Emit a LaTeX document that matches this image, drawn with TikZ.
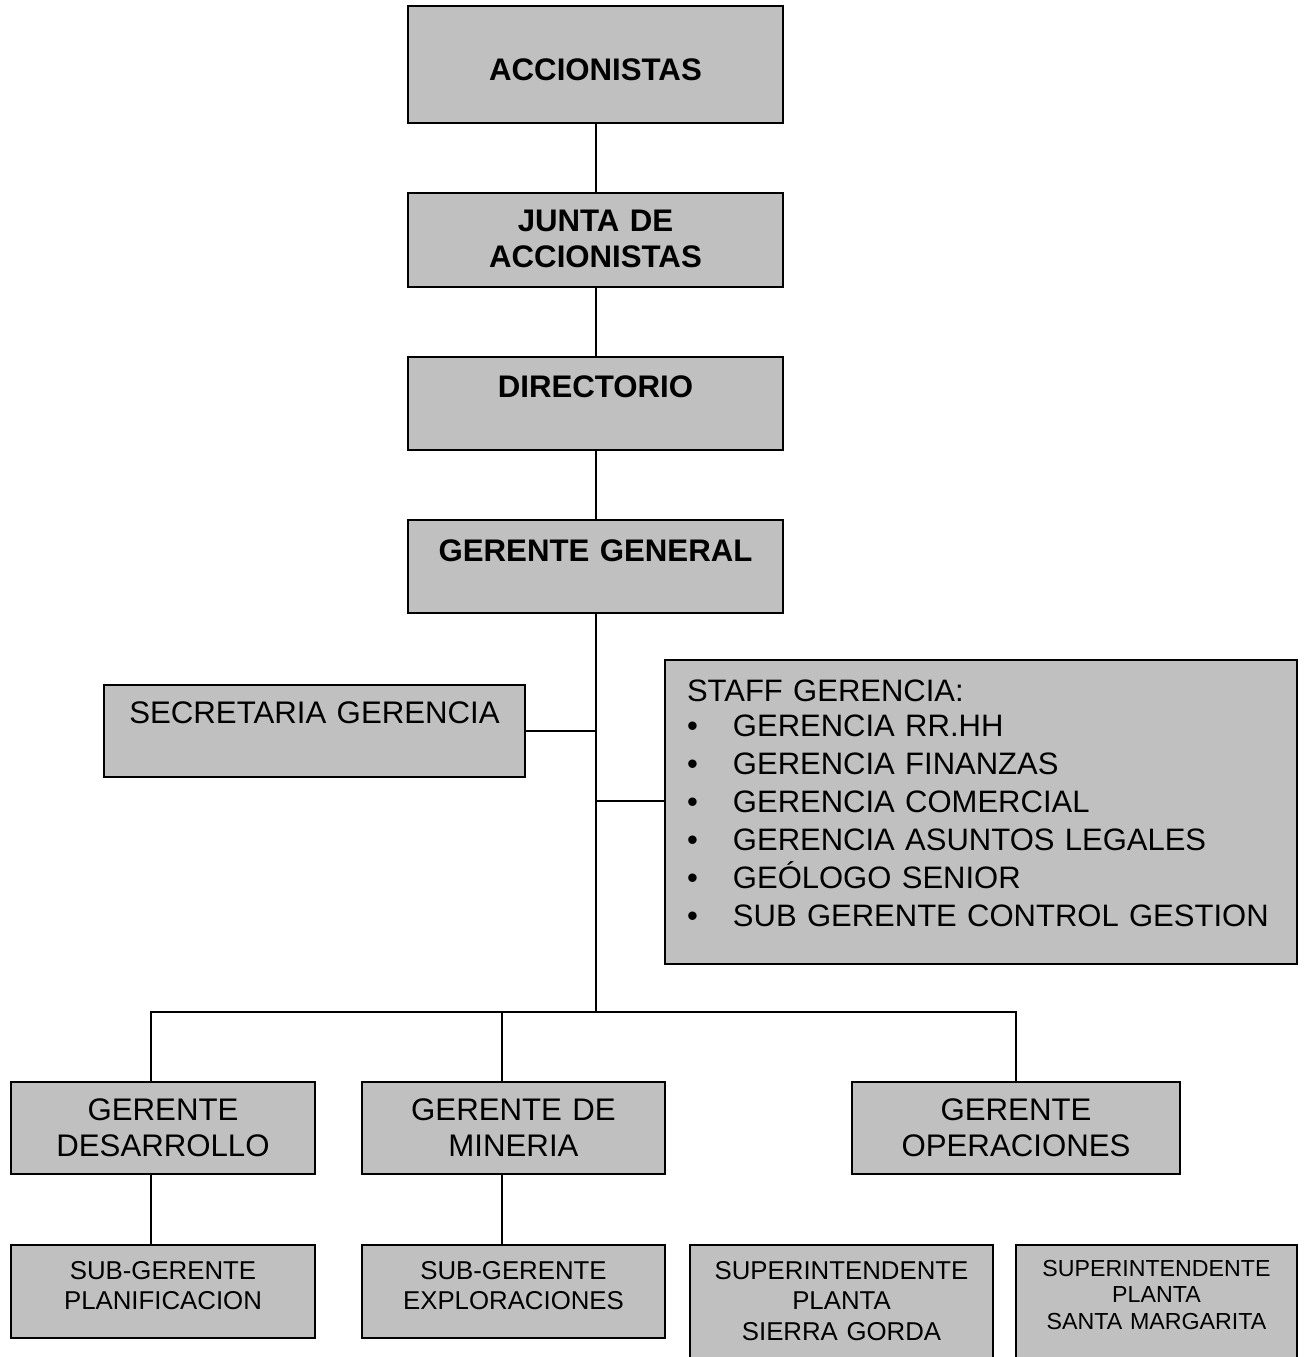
\documentclass[tikz,border=0pt]{standalone}
\usepackage{fontspec}
\setmainfont{Liberation Sans}
\usetikzlibrary{calc}

\newcommand{\bigText}{\fontsize{31.2}{36}\selectfont}
\newcommand{\smallText}{\fontsize{25.8}{30.5}\selectfont}
\newcommand{\tinyText}{\fontsize{23.2}{26.5}\selectfont}
\newcommand{\staffItem}[1]{\makebox[46pt][l]{\textbullet}#1}

\tikzset{
    orgBox/.style={draw=borderColour, fill=fillColour, line width=2pt, inner sep=0pt, align=center},
    staffBox/.style={orgBox, align=left, inner xsep=22pt},
    link/.style={draw=borderColour, line width=2pt}
}

\begin{document}
\begin{tikzpicture}[x=1pt, y=-1pt]
    \definecolor{borderColour}{HTML}{000000}
    \definecolor{fillColour}{HTML}{C0C0C0}

    % Page frame
    \useasboundingbox (0,0) rectangle (1304,1357);
    \clip (0,0) rectangle (1304,1357);

    % Top chain
    \node[orgBox, text width=375pt, text height=74.5pt, text depth=42.5pt, font=\bigText\bfseries] (acc) at (595.5,64.5) {ACCIONISTAS};
    \node[orgBox, text width=375pt, text height=38.5pt, text depth=55.5pt, font=\bigText\bfseries] (junta) at (595.5,240) {JUNTA DE\\ACCIONISTAS};
    \node[orgBox, text width=375pt, text height=40pt, text depth=53pt, font=\bigText\bfseries] (dir) at (595.5,403.5) {DIRECTORIO};
    \node[orgBox, text width=375pt, text height=41pt, text depth=52pt, font=\bigText\bfseries] (gg) at (595.5,566.5) {GERENTE GENERAL};

    % Side boxes
    \node[orgBox, text width=421pt, text height=38.5pt, text depth=53.5pt, font=\bigText] (sec) at (314.5,731) {SECRETARIA GERENCIA};
    \node[staffBox, text width=588pt, text height=41pt, text depth=263pt, font=\fontsize{31}{38}\selectfont] (staff) at (981,812) {STAFF GERENCIA:\\[-3pt]
        \staffItem{GERENCIA RR.HH}\\
        \staffItem{GERENCIA FINANZAS}\\
        \staffItem{GERENCIA COMERCIAL}\\
        \staffItem{GERENCIA ASUNTOS LEGALES}\\
        \staffItem{GEÓLOGO SENIOR}\\
        \staffItem{SUB GERENTE CONTROL GESTION}};

    % Gerentes
    \node[orgBox, text width=304pt, text height=38pt, text depth=54pt, font=\bigText] (gdes) at (163,1128) {GERENTE\\DESARROLLO};
    \node[orgBox, text width=303pt, text height=38pt, text depth=54pt, font=\bigText] (gmin) at (513.5,1128) {GERENTE DE\\MINERIA};
    \node[orgBox, text width=328pt, text height=38pt, text depth=54pt, font=\bigText] (gop) at (1016,1128) {GERENTE\\OPERACIONES};

    % Bottom row
    \node[orgBox, text width=304pt, text height=34pt, text depth=59pt, font=\smallText] (sgplan) at (163,1291.5) {SUB-GERENTE\\PLANIFICACION};
    \node[orgBox, text width=303pt, text height=34pt, text depth=59pt, font=\smallText] (sgexp) at (513.5,1291.5) {SUB-GERENTE\\EXPLORACIONES};
    \node[orgBox, text width=303pt, text height=34pt, text depth=101pt, font=\smallText] (supsg) at (841.5,1312.5) {SUPERINTENDENTE\\PLANTA\\SIERRA GORDA};
    \node[orgBox, text width=281pt, text height=31pt, text depth=104pt, font=\tinyText] (supsm) at (1156.5,1312.5) {SUPERINTENDENTE\\PLANTA\\SANTA MARGARITA};

    % Draw connectors
    \coordinate (bus) at (595.5,1012);
    \draw[link] (acc) -- (junta);
    \draw[link] (junta) -- (dir);
    \draw[link] (dir) -- (gg);
    \draw[link] (gg) -- (bus);
    \draw[link] (sec.east) -- (sec.east -| gg.south);
    \draw[link] ([yshift=11pt]staff.west) -- ([yshift=11pt]staff.west -| gg.south);
    \draw[link] ([xshift=-12pt]gdes.north) |- (bus);
    \draw[link] ([xshift=-11.5pt]gmin.north) |- (bus);
    \draw[link] (gop.north) |- (bus);
    \draw[link] ([xshift=-12pt]gdes.south) -- ([xshift=-12pt]sgplan.north);
    \draw[link] ([xshift=-11.5pt]gmin.south) -- ([xshift=-11.5pt]sgexp.north);

\end{tikzpicture}
\end{document}
